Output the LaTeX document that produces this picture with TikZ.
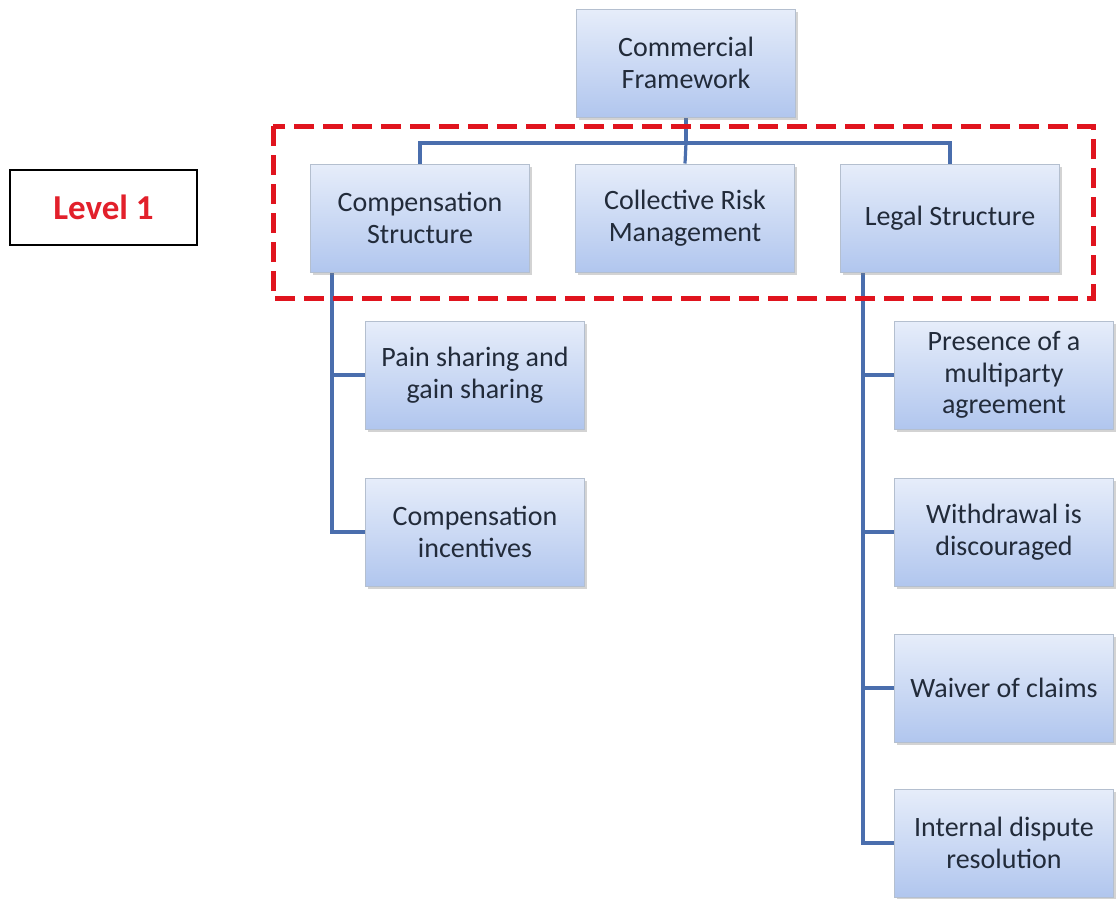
\documentclass[tikz,border=0pt]{standalone}
\usepackage{fontspec}
\setmainfont{Carlito}
\usetikzlibrary{shadows,backgrounds}
\definecolor{boxtop}{HTML}{E6EDFA}
\definecolor{boxbot}{HTML}{B1C6EE}
\definecolor{boxline}{HTML}{B4BFCF}
\definecolor{txt}{HTML}{222B3A}
\definecolor{link}{HTML}{4A6EAD}
\definecolor{dashred}{HTML}{E0141E}
\definecolor{lvlred}{HTML}{E2202B}
\begin{document}
\begin{tikzpicture}[x=1pt,y=-1pt,
  card/.style={draw=boxline, line width=1pt, top color=boxtop, bottom color=boxbot,
    minimum width=219pt, minimum height=108pt, align=center, text=txt,
    font=\fontsize{28}{31.5}\selectfont,
    drop shadow={shadow xshift=2pt, shadow yshift=-3pt, opacity=0.35}},
  conn/.style={draw=link, line width=3.2pt},
  level/.style={draw=black, line width=1.6pt, minimum width=187pt, minimum height=75pt,
    text=lvlred, font=\fontsize{35}{38}\selectfont\bfseries},
  groupframe/.style={draw=dashred, line width=5pt, dash pattern=on 20pt off 9pt}]
\useasboundingbox (0,0) rectangle (1116,898);

% top node and level-one row
\node[card] (cf) at (686,63) {Commercial\\Framework};
\node[card] (cs) at (420,218) {Compensation\\Structure};
\node[card] (cr) at (685,218) {Collective Risk\\Management};
\node[card] (lg) at (950,218) {Legal Structure};

% children of Compensation Structure
\node[card] (ps) at (475,375) {Pain sharing and\\gain sharing};
\node[card] (ci) at (475,532) {Compensation\\incentives};

% children of Legal Structure
\node[card] (pm) at (1004,375) {Presence of a\\multiparty\\agreement};
\node[card] (wd) at (1004,532) {Withdrawal is\\discouraged};
\node[card] (wc) at (1004,688) {Waiver of claims};
\node[card] (id) at (1004,843) {Internal dispute\\resolution};

% level label
\node[level] (lvl) at (103.5,207.5) {Level 1};

% connectors
\begin{scope}[on background layer]
  \coordinate (bus) at (686,143);
  \draw[conn] (cf.south) -- (bus);
  \draw[conn] (bus) -| (cs.north);
  \draw[conn] (bus) -| (lg.north);
  \draw[conn] (bus) -- (cr.north);
  \coordinate (lspine) at (332,272);
  \draw[conn] (lspine) |- (ps.west);
  \draw[conn] (lspine) |- (ci.west);
  \coordinate (rspine) at (863,272);
  \draw[conn] (rspine) |- (pm.west);
  \draw[conn] (rspine) |- (wd.west);
  \draw[conn] (rspine) |- (wc.west);
  \draw[conn] (rspine) |- (id.west);
\end{scope}

% dashed frame around level one
\draw[groupframe] (273,126) rectangle (1093,298);
\end{tikzpicture}
\end{document}
